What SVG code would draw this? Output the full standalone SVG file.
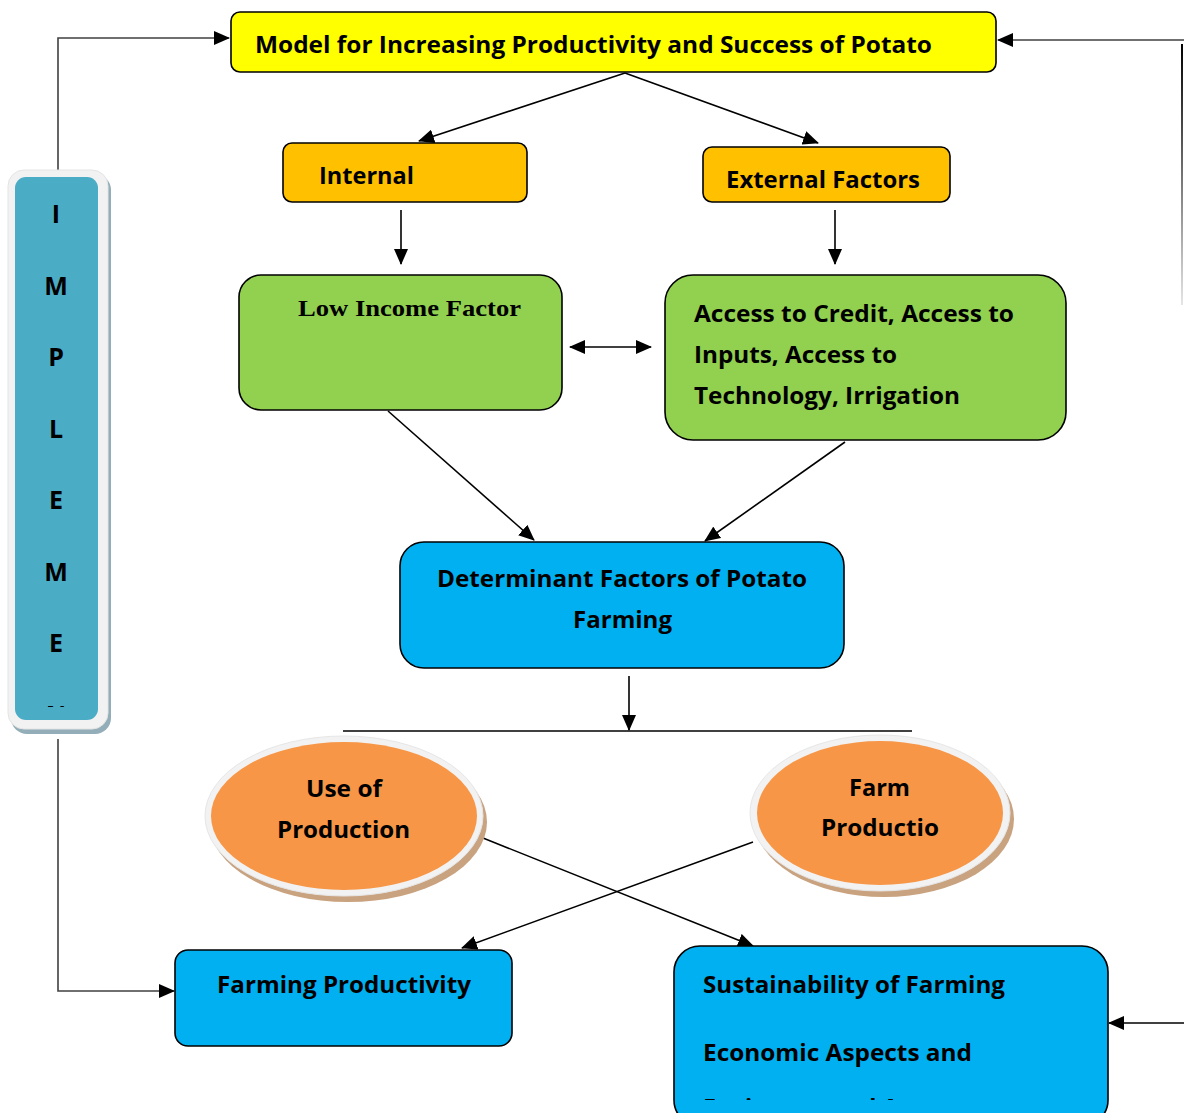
<svg xmlns="http://www.w3.org/2000/svg" width="1184" height="1113" viewBox="0 0 1184 1113">
<style>
.box{stroke:#000;stroke-width:1.6}
.t{font-family:"Open Sans","Liberation Sans",sans-serif;font-weight:bold;font-size:23px;fill:#000}
.ser{font-family:"Liberation Serif","DejaVu Serif",serif;font-weight:bold;font-size:24px;fill:#000}
.let{font-family:"Open Sans","Liberation Sans",sans-serif;font-weight:bold;font-size:25px;fill:#000;text-anchor:middle}
.c{stroke:#000;stroke-width:1.6;fill:none}
.g{stroke:#404040;stroke-width:1.6;fill:none}
</style>
<defs>
<marker id="ah" markerUnits="userSpaceOnUse" markerWidth="16" markerHeight="14" refX="15" refY="7" orient="auto">
<path d="M0,0 L16,7 L0,14 Z" fill="#000"/>
</marker>
<marker id="as" markerUnits="userSpaceOnUse" markerWidth="16" markerHeight="14" refX="1" refY="7" orient="auto">
<path d="M16,0 L0,7 L16,14 Z" fill="#000"/>
</marker>
<linearGradient id="fade" gradientUnits="userSpaceOnUse" x1="0" y1="44" x2="0" y2="305">
<stop offset="0" stop-color="#000"/>
<stop offset="1" stop-color="#000" stop-opacity="0.1"/>
</linearGradient>
<clipPath id="clipN"><rect x="15" y="177" width="83" height="530"/></clipPath>
<clipPath id="clipS"><rect x="670" y="940" width="450" height="160"/></clipPath>
</defs>

<g id="connectors">
<polyline class="g" points="58,170 58,38 229,38" marker-end="url(#ah)"/>
<polyline class="g" points="58,739 58,991 174,991" marker-end="url(#ah)"/>
<line class="g" x1="1184" y1="40" x2="998" y2="40" marker-end="url(#ah)"/>
<rect x="1181" y="44" width="2" height="261" fill="url(#fade)"/>
<line class="c" x1="1184" y1="1023" x2="1109" y2="1023" marker-end="url(#ah)"/>
<line class="c" x1="625" y1="73" x2="419" y2="141" marker-end="url(#ah)"/>
<line class="c" x1="625" y1="73" x2="818" y2="143" marker-end="url(#ah)"/>
<line class="c" x1="401" y1="210" x2="401" y2="264" marker-end="url(#ah)"/>
<line class="c" x1="835" y1="210" x2="835" y2="264" marker-end="url(#ah)"/>
<line class="c" x1="570" y1="347" x2="651" y2="347" marker-start="url(#as)" marker-end="url(#ah)"/>
<line class="c" x1="388" y1="411" x2="534" y2="540" marker-end="url(#ah)"/>
<line class="c" x1="845" y1="442" x2="705" y2="541" marker-end="url(#ah)"/>
<line class="c" x1="629" y1="676" x2="629" y2="730" marker-end="url(#ah)"/>
<line class="c" x1="343" y1="731" x2="912" y2="731"/>
<line class="c" x1="483" y1="838" x2="753" y2="946" marker-end="url(#ah)"/>
<line class="c" x1="753" y1="842" x2="462" y2="948" marker-end="url(#ah)"/>
</g>

<g id="implement">
<rect x="11" y="174" width="100" height="560" rx="16" fill="#93AEB8"/>
<rect x="8" y="170" width="100" height="559" rx="16" fill="#F2F2F2" stroke="#E4E4E4" stroke-width="1"/>
<rect x="15" y="177" width="83" height="543" rx="11" fill="#4BACC6"/>
<g clip-path="url(#clipN)">
<text class="let" x="56" y="223">I</text>
<text class="let" x="56" y="295">M</text>
<text class="let" x="56" y="366">P</text>
<text class="let" x="56" y="438">L</text>
<text class="let" x="56" y="509">E</text>
<text class="let" x="56" y="581">M</text>
<text class="let" x="56" y="652">E</text>
<text class="let" x="56" y="724">N</text>
</g>
</g>

<g id="model">
<rect class="box" x="231" y="12" width="765" height="60" rx="9" fill="#FFFF00"/>
<text class="t" x="255" y="53" textLength="677" lengthAdjust="spacingAndGlyphs">Model for Increasing Productivity and Success of Potato</text>
</g>

<g id="internal">
<rect class="box" x="283" y="143" width="244" height="59" rx="9" fill="#FFC000"/>
<text class="t" x="319" y="184" textLength="95" lengthAdjust="spacingAndGlyphs">Internal</text>
</g>

<g id="external">
<rect class="box" x="703" y="147" width="247" height="55" rx="9" fill="#FFC000"/>
<text class="t" x="726" y="188" textLength="194" lengthAdjust="spacingAndGlyphs">External Factors</text>
</g>

<g id="low-income">
<rect class="box" x="239" y="275" width="323" height="135" rx="22" fill="#92D050"/>
<text class="ser" x="298" y="316" textLength="223" lengthAdjust="spacingAndGlyphs">Low Income Factor</text>
</g>

<g id="access">
<rect class="box" x="665" y="275" width="401" height="165" rx="28" fill="#92D050"/>
<text class="t" x="694" y="322" textLength="320" lengthAdjust="spacingAndGlyphs">Access to Credit, Access to</text>
<text class="t" x="694" y="363" textLength="203" lengthAdjust="spacingAndGlyphs">Inputs, Access to</text>
<text class="t" x="694" y="404" textLength="266" lengthAdjust="spacingAndGlyphs">Technology, Irrigation</text>
</g>

<g id="determinant">
<rect class="box" x="400" y="542" width="444" height="126" rx="24" fill="#00B0F0"/>
<text class="t" x="437" y="587" textLength="370" lengthAdjust="spacingAndGlyphs">Determinant Factors of Potato</text>
<text class="t" x="573" y="628" textLength="99" lengthAdjust="spacingAndGlyphs">Farming</text>
</g>

<g id="use-of-production">
<ellipse cx="348" cy="822" rx="139" ry="80" fill="#C9A27F"/>
<ellipse cx="344" cy="816" rx="139" ry="80" fill="#F2F2F2" stroke="#E6E6E6" stroke-width="1"/>
<ellipse cx="344" cy="816" rx="133" ry="74" fill="#F79646"/>
<text class="t" x="306" y="797" textLength="76" lengthAdjust="spacingAndGlyphs">Use of</text>
<text class="t" x="277" y="838" textLength="133" lengthAdjust="spacingAndGlyphs">Production</text>
</g>

<g id="farm-production">
<ellipse cx="884" cy="819" rx="130" ry="78" fill="#C9A27F"/>
<ellipse cx="880" cy="813" rx="130" ry="78" fill="#F2F2F2" stroke="#E6E6E6" stroke-width="1"/>
<ellipse cx="880" cy="813" rx="123" ry="72" fill="#F79646"/>
<text class="t" x="849" y="796" textLength="61" lengthAdjust="spacingAndGlyphs">Farm</text>
<text class="t" x="821" y="836" textLength="118" lengthAdjust="spacingAndGlyphs">Productio</text>
</g>

<g id="farming-productivity">
<rect class="box" x="175" y="950" width="337" height="96" rx="13" fill="#00B0F0"/>
<text class="t" x="217" y="993" textLength="254" lengthAdjust="spacingAndGlyphs">Farming Productivity</text>
</g>

<g id="sustainability">
<rect class="box" x="674" y="946" width="434" height="180" rx="26" fill="#00B0F0"/>
<text class="t" x="703" y="993" textLength="302" lengthAdjust="spacingAndGlyphs">Sustainability of Farming</text>
<text class="t" x="703" y="1061" textLength="269" lengthAdjust="spacingAndGlyphs">Economic Aspects and</text>
<g clip-path="url(#clipS)">
<text class="t" x="703" y="1116" textLength="270" lengthAdjust="spacingAndGlyphs">Environmental Aspects</text>
</g>
</g>
</svg>
